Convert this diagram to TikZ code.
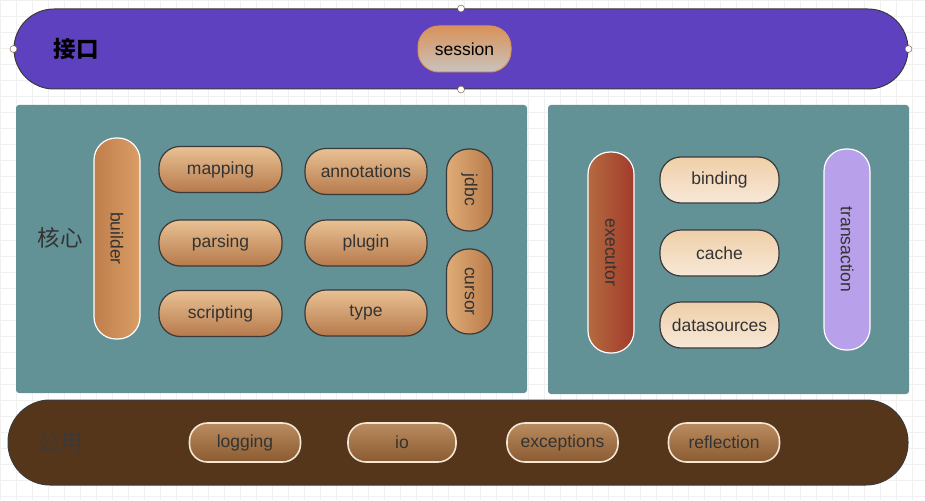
\documentclass[tikz,border=0pt]{standalone}
\usepackage{fontspec}
\setmainfont{Liberation Sans}
\newfontfamily\cjk{Noto Sans CJK SC}
\usepackage{xcolor}
\usepackage{tikz}

\definecolor{bandpurple}{HTML}{5E41BE}
\definecolor{panelteal}{HTML}{629296}
\definecolor{bandbrown}{HTML}{56361B}
\definecolor{edgegray}{HTML}{3A3A3A}
\definecolor{textgray}{HTML}{333333}

\begin{document}
\begin{tikzpicture}[x=1pt,y=-1pt,
    gridline/.style={draw=black!6,line width=.5pt},
    band/.style={draw=edgegray,line width=1pt,rounded corners=40pt},
    panel/.style={fill=panelteal,rounded corners=3pt},
    handle/.style={circle,draw=brown!60!black,fill=white,inner sep=0pt,minimum size=7pt},
    pill/.style={draw=edgegray,line width=1.2pt,rounded corners=21pt,
        minimum width=123pt,minimum height=46pt,text=textgray,font=\fontsize{17.5}{20}\selectfont},
    tall/.style={pill,rotate=-90,rounded corners=22pt,minimum height=46pt}]
             \useasboundingbox (0,0) rectangle (925,500);
             \fill[white] (0,0) rectangle (925,500);
             \foreach \gx in {0,16,...,924} \draw[gridline] (\gx,0) -- (\gx,500);
             \foreach \gy in {0,16,...,499} \draw[gridline] (0,\gy) -- (925,\gy);

             % interface band
             \node[band,fill=bandpurple,minimum width=894pt,minimum height=80pt] (api) at (461,49) {};
             \node[draw=none,font=\cjk\bfseries\fontsize{22.5}{26}\selectfont] (apilabel) at (76,49) {接口};
             \node[pill,draw={rgb,255:red,216;green,147;blue,91},line width=1pt,
                   top color={rgb,255:red,216;green,146;blue,90},bottom color={rgb,255:red,201;green,195;blue,189},
                   minimum width=93pt,text=black] (session) at (464.5,49) {session};
             \node[handle] (h1) at (api.north) {};
             \node[handle] (h2) at (api.south) {};
             \node[handle] (h3) at (api.west) {};
             \node[handle] (h4) at (api.east) {};

             % core panel
             \node[panel,minimum width=511pt,minimum height=288pt] (core) at (271.5,249) {};
             \node[draw=none,text=textgray,font=\cjk\fontsize{22.5}{26}\selectfont] (corelabel) at (60,238) {核心};
             \node[tall,draw=white,minimum width=201pt,
                   left color={rgb,255:red,191;green,126;blue,75},right color={rgb,255:red,219;green,158;blue,102}] (builder) at (117,238.5) {builder};
             \tikzset{warm/.style={pill,top color={rgb,255:red,233;green,193;blue,147},bottom color={rgb,255:red,182;green,122;blue,76}}}
             \node[warm] (mapping) at (220.5,169.5) {mapping};
             \node[warm] (parsing) at (220.5,243) {parsing};
             \node[warm] (scripting) at (220.5,313.5) {scripting};
             \node[warm,minimum width=122pt] (annotations) at (366,171.5) {annotations};
             \node[warm,minimum width=122pt] (plugin) at (366,243) {plugin};
             \node[warm,minimum width=122pt] (type) at (366,313) {type};
             \tikzset{side/.style={tall,draw=edgegray,line width=1.2pt,
                   left color={rgb,255:red,224;green,172;blue,120},right color={rgb,255:red,184;green,122;blue,72}}}
             \node[side,minimum width=82pt] (jdbc) at (469.5,190) {jdbc};
             \node[side,minimum width=85pt] (cursor) at (469.5,291.5) {cursor};

             % executor panel
             \node[panel,minimum width=361pt,minimum height=289pt] (exec) at (728.5,249.5) {};
             \node[tall,draw=white,minimum width=201pt,
                   left color={rgb,255:red,180;green,107;blue,64},right color={rgb,255:red,162;green,58;blue,43}] (executor) at (611,252.5) {executor};
             \node[tall,draw=white,fill={rgb,255:red,184;green,160;blue,234},minimum width=201pt] (transaction) at (847,249.5) {transaction};
             \tikzset{pale/.style={pill,minimum width=119pt,
                   top color={rgb,255:red,239;green,207;blue,168},bottom color={rgb,255:red,248;green,232;blue,216}}}
             \node[pale] (binding) at (719.5,180) {binding};
             \node[pale] (cache) at (719.5,253) {cache};
             \node[pale] (datasources) at (719.5,325) {datasources};

             % common band
             \node[band,fill=bandbrown,rounded corners=42pt,minimum width=900pt,minimum height=85pt] (common) at (458,442.5) {};
             \node[draw=none,text=edgegray,font=\cjk\fontsize{22.5}{26}\selectfont] (commonlabel) at (60,443) {公用};
             \tikzset{util/.style={pill,draw={rgb,255:red,242;green,230;blue,214},line width=1.6pt,rounded corners=18pt,
                   minimum width=111pt,minimum height=39pt,
                   top color={rgb,255:red,187;green,140;blue,95},bottom color={rgb,255:red,138;green,90;blue,49}}}
             \node[util] (logging) at (245,442.5) {logging};
             \node[util,minimum width=108pt] (io) at (402,442.5) {io};
             \node[util] (exceptions) at (562.5,442.5) {exceptions};
             \node[util] (reflection) at (724,442.5) {reflection};
             \end{tikzpicture}
\end{document}
